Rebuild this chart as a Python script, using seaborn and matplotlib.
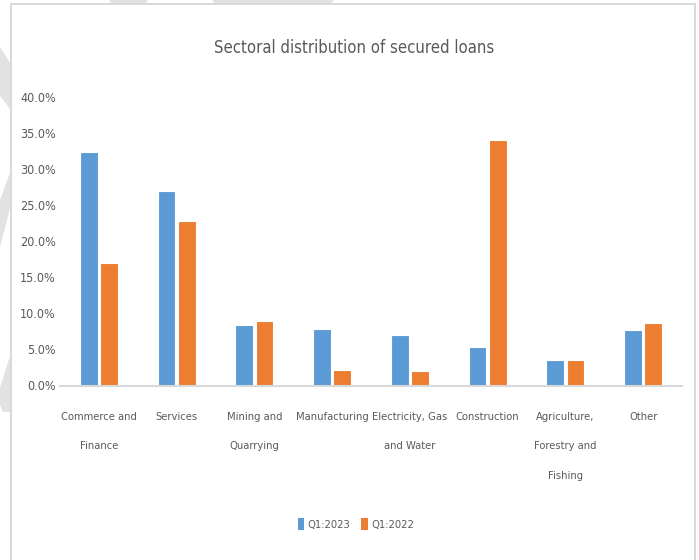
import matplotlib
matplotlib.use("Agg")
import matplotlib.pyplot as plt
from matplotlib.patches import Rectangle, Patch, Polygon
from matplotlib.ticker import PercentFormatter
import pandas as pd
import seaborn as sns

# Sector shares of secured loans (%)
sectors = [
    "Commerce and\nFinance", "Services", "Mining and\nQuarrying", "Manufacturing",
    "Electricity, Gas\nand Water", "Construction", "Agriculture,\nForestry and\nFishing", "Other",
]
q1_2023 = [32.5, 27.0, 8.4, 7.9, 7.0, 5.3, 3.6, 7.7]
q1_2022 = [17.0, 22.8, 8.9, 2.2, 2.0, 34.1, 3.6, 8.7]
periods = ["Q1:2023", "Q1:2022"]
colors = ["#5B9BD5", "#ED7D31"]
yticks = [0, 5, 10, 15, 20, 25, 30, 35, 40]

df = pd.DataFrame({
    "sector": sectors * 2,
    "share": q1_2023 + q1_2022,
    "period": [periods[0]] * len(sectors) + [periods[1]] * len(sectors),
})

sns.set_theme(style="white")
plt.rcParams["font.family"] = ["DejaVu Sans"]
plt.rcParams["font.stretch"] = "condensed"
text_gray = "#595959"
deco_gray = "#e2e2e2"

W, H = 699, 560
fig = plt.figure(figsize=(W / 100, H / 100), dpi=100, facecolor="white")


def px(points):
    """Pixel coordinates (from top-left) to figure fraction."""
    return [(x / W, 1 - y / H) for x, y in points]


# background decoration shapes in the margins
for shape in [
    [(0, 47), (11, 64), (11, 110), (0, 96)],
    [(0, 200), (11, 170), (11, 205), (0, 247)],
    [(0, 388), (11, 353), (11, 412), (3, 412), (0, 405)],
    [(109, 0), (148, 0), (146, 3.5), (111, 3.5)],
    [(212, 0), (334, 0), (331, 3.5), (215, 3.5)],
]:
    fig.patches.append(Polygon(px(shape), closed=True, transform=fig.transFigure,
                               facecolor=deco_gray, edgecolor="none", zorder=0))

# chart frame
fig.patches.append(Rectangle((11 / W, -0.01), (695 - 11) / W, 1.01 - 3.5 / H,
                             transform=fig.transFigure, facecolor="white",
                             edgecolor="#d6d6d6", linewidth=1.3, zorder=0.5))

ax = fig.add_axes([60 / W, 1 - 385.5 / H, (682 - 60) / W, 288 / H])
ax.set_facecolor("none")
ax.set_zorder(2)

sns.barplot(data=df, x="sector", y="share", hue="period", palette=colors,
            hue_order=periods, order=sectors, width=0.52, gap=0.12, saturation=1,
            edgecolor="white", linewidth=0.8, legend=False, ax=ax)

ax.set_xlim(-0.5, len(sectors) - 0.5)
ax.set_ylim(0, 40)
ax.set_yticks(yticks)
ax.yaxis.set_major_formatter(PercentFormatter(decimals=1))
ax.set_xlabel("")
ax.set_ylabel("")

for side in ["top", "right", "left"]:
    ax.spines[side].set_visible(False)
ax.spines["bottom"].set_color("#d9d9d9")
ax.spines["bottom"].set_linewidth(1.5)

ax.tick_params(axis="y", length=0, pad=3, labelsize=9, labelcolor=text_gray)
ax.tick_params(axis="x", length=0, pad=19, labelsize=8, labelcolor=text_gray)
for lbl in ax.get_xticklabels():
    lbl.set_linespacing(3.45)

fig.text(354 / W, 1 - 48 / H, "Sectoral distribution of secured loans",
         ha="center", va="center", fontsize=12, color=text_gray)

handles = [Patch(facecolor=c, edgecolor="none", label=p) for c, p in zip(colors, periods)]
leg = fig.legend(handles=handles, loc="center", bbox_to_anchor=(356 / W, 1 - 524 / H), ncol=2,
                 frameon=False, fontsize=8, labelcolor=text_gray, handlelength=0.55,
                 handleheight=1.2, handletextpad=0.3, columnspacing=1.0)
leg.set_zorder(3)

fig.savefig("out.png", dpi=100, facecolor="white")
